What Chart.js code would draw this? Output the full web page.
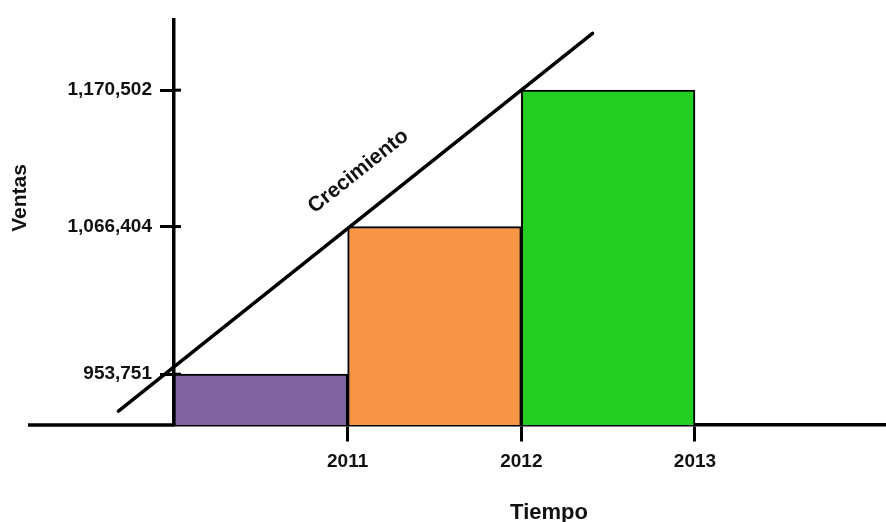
<!DOCTYPE html>
<html>
<head>
<meta charset="utf-8">
<script src="https://cdn.jsdelivr.net/npm/chart.js@4/dist/chart.umd.min.js"></script>
<style>
  html, body { margin: 0; padding: 0; background: #fff; }
  #caja { width: 886px; height: 522px; }
</style>
</head>
<body>
<div id="caja"><canvas id="grafico-ventas"></canvas></div>
<script>
// Datos de ventas por año
const anios = [2011, 2012, 2013];
const ventas = [953751, 1066404, 1170502];
const colores = ['#8064A2', '#F79646', '#23CD21'];

// Recta de crecimiento (dos extremos, en unidades de los ejes)
const crecimientoX = [2009.68, 2012.41];
const crecimientoY = [925600, 1213800];

const fuente = 'Liberation Sans, Arial, Helvetica, sans-serif';
const negro = '#111';

// Tramo del eje X a la izquierda del eje Y, marcas cruzando el eje Y y textos sueltos
const extras = {
  id: 'extras',
  beforeDatasetsDraw(chart) {
    const ctx = chart.ctx;
    const area = chart.chartArea;
    const y = chart.scales.y;
    ctx.save();
    ctx.strokeStyle = '#000';
    ctx.lineWidth = 3.5;
    ctx.beginPath();
    ctx.moveTo(28, area.bottom);
    ctx.lineTo(area.left, area.bottom);
    ctx.stroke();
    ctx.lineWidth = 3;
    ventas.forEach(v => {
      const py = y.getPixelForValue(v);
      ctx.beginPath();
      ctx.moveTo(area.left, py);
      ctx.lineTo(area.left + 7, py);
      ctx.stroke();
    });
    ctx.restore();
  },
  afterDatasetsDraw(chart) {
    const ctx = chart.ctx;
    const x = chart.scales.x, y = chart.scales.y;
    ctx.save();
    ctx.fillStyle = negro;
    ctx.textAlign = 'center';
    ctx.textBaseline = 'middle';

    // "Ventas" vertical
    ctx.font = 'bold 21px ' + fuente;
    ctx.save();
    ctx.translate(20, 198);
    ctx.rotate(-Math.PI / 2);
    ctx.fillText('Ventas', 0, 0);
    ctx.restore();

    // "Tiempo"
    ctx.font = 'bold 22px ' + fuente;
    ctx.fillText('Tiempo', 549, 513);

    // "Crecimiento" sobre la recta
    const x0 = x.getPixelForValue(crecimientoX[0]), y0 = y.getPixelForValue(crecimientoY[0]);
    const x1 = x.getPixelForValue(crecimientoX[1]), y1 = y.getPixelForValue(crecimientoY[1]);
    const ang = Math.atan2(y1 - y0, x1 - x0);
    const t = 0.556, sep = 38;
    const px = x0 + (x1 - x0) * t + Math.sin(ang) * sep;
    const py = y0 + (y1 - y0) * t - Math.cos(ang) * sep;
    ctx.font = 'bold 21px ' + fuente;
    ctx.translate(px, py);
    ctx.rotate(ang);
    ctx.fillText('Crecimiento', 0, 0);
    ctx.restore();
  }
};

const ctx = document.getElementById('grafico-ventas').getContext('2d');
new Chart(ctx, {
  type: 'bar',
  data: {
    datasets: [
      {
        type: 'line',
        label: 'Crecimiento',
        data: crecimientoX.map((v, i) => ({ x: v, y: crecimientoY[i] })),
        borderColor: '#000',
        borderWidth: 3.5,
        borderCapStyle: 'round',
        pointRadius: 0,
        clip: false,
        order: 0
      },
      {
        label: 'Ventas',
        // cada barra ocupa el año que termina en su marca
        data: anios.map((a, i) => ({ x: a - 0.5, y: ventas[i] })),
        backgroundColor: colores,
        borderColor: '#000',
        borderWidth: 2,
        borderSkipped: false,
        barPercentage: 1,
        categoryPercentage: 1,
        order: 1
      }
    ]
  },
  options: {
    responsive: true,
    maintainAspectRatio: false,
    animation: false,
    layout: { padding: { left: 0, top: 16, right: 0, bottom: 97 } },
    plugins: {
      legend: { display: false },
      tooltip: { enabled: false }
    },
    scales: {
      x: {
        type: 'linear',
        position: { y: 914965 },
        offset: false,
        min: 2010,
        max: 2014.1,
        afterBuildTicks: s => { s.ticks = anios.map(a => ({ value: a })); },
        ticks: {
          callback: v => String(v),
          color: negro,
          font: { family: fuente, size: 19, weight: 'bold' },
          padding: 10
        },
        grid: { offset: false, drawOnChartArea: false, tickLength: 15, tickWidth: 3, tickColor: '#000' },
        border: { color: '#000', width: 3.5 }
      },
      y: {
        type: 'linear',
        position: 'left',
        min: 914965,
        max: 1224494,
        afterBuildTicks: s => { s.ticks = ventas.map(v => ({ value: v })); },
        afterFit: s => { s.width = 174; },
        ticks: {
          callback: v => v.toLocaleString('en-US'),
          color: negro,
          font: { family: fuente, size: 19, weight: 'bold' },
          padding: 8
        },
        grid: { drawOnChartArea: false, tickLength: 14, tickWidth: 3, tickColor: '#000' },
        border: { color: '#000', width: 3.5 }
      }
    }
  },
  plugins: [extras]
});
</script>
</body>
</html>
